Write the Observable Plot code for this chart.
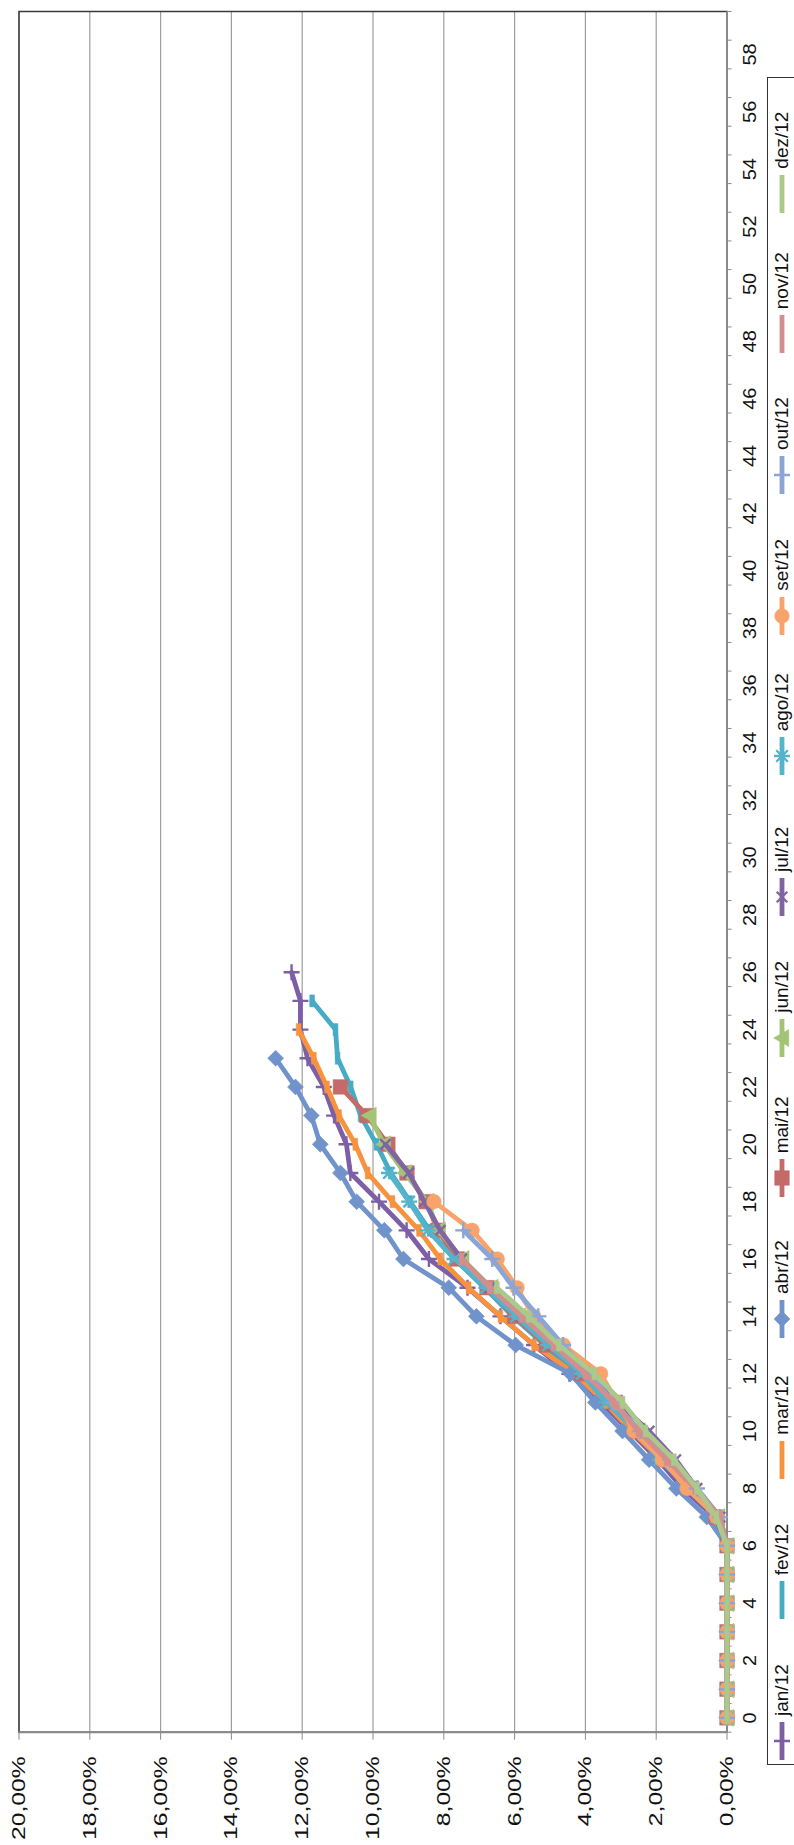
<!DOCTYPE html>
<html><head><meta charset="utf-8">
<script src="https://cdn.jsdelivr.net/npm/d3@7"></script>
<script src="https://cdn.jsdelivr.net/npm/@observablehq/plot@0.6"></script>
<style>
html,body{margin:0;padding:0;background:#fff;overflow:hidden;width:794px;height:1845px;}
#rot{position:absolute;left:0;top:0;width:1845px;height:810px;transform-origin:0 0;transform:translate(0px,1845px) rotate(-90deg);font-family:"Liberation Sans",Arial,sans-serif;background:#fff;}
#chart{position:absolute;left:0;top:0;}
#legend{position:absolute;left:80px;top:767px;width:1688px;height:42px;border:1.5px solid #333;box-sizing:border-box;}
.item{position:absolute;top:0;height:28px;display:flex;align-items:center;}
.item span{font-size:19px;line-height:28px;color:#111;margin-left:5px;white-space:nowrap;}
</style></head><body>
<div id="rot"><div id="chart"></div><div id="legend"></div></div>
<script>
// ---- data (percent values, index = week) ----
const categories = ["jan/12","fev/12","mar/12","abr/12","mai/12","jun/12","jul/12","ago/12","set/12","out/12","nov/12","dez/12"];
const jan = [0,0,0,0,0,0,0,0.35,1.25,1.95,2.75,3.55,4.45,5.45,6.4,7.33,8.42,9.05,9.83,10.64,10.75,11.1,11.39,11.85,12.05,12.05,12.3];
const fev = [0,0,0,0,0,0,0,0.25,0.95,1.75,2.5,3.4,4.3,5.15,6.05,6.85,7.7,8.4,8.95,9.5,9.9,10.35,10.63,11.0,11.06,11.72];
const mar = [0,0,0,0,0,0,0,0.3,1.05,1.85,2.7,3.45,4.3,5.45,6.4,7.3,8.1,8.7,9.45,10.15,10.5,10.96,11.3,11.67,12.1];
const abr = [0,0,0,0,0,0,0,0.57,1.43,2.2,2.95,3.72,4.42,5.97,7.08,7.86,9.14,9.68,10.46,10.92,11.49,11.74,12.19,12.75];
const mai = [0,0,0,0,0,0,0,0.3,1.0,1.75,2.55,3.15,4.1,5.1,6.0,6.78,7.62,8.17,8.5,9.04,9.58,10.17,10.92];
const jun = [0,0,0,0,0,0,0,0.25,1.0,1.85,2.5,3.3,4.05,5.0,5.88,6.66,7.48,8.15,8.47,9.1,9.69,10.1];
const jul = [0,0,0,0,0,0,0,0.2,0.85,1.45,2.2,3.1,3.95,4.9,5.8,6.7,7.5,8.1,8.55,8.99,9.65];
const ago = [0,0,0,0,0,0,0,0.3,1.05,1.9,2.55,3.4,4.1,5.05,5.95,6.8,7.7,8.45,8.98,9.55];
const set = [0,0,0,0,0,0,0,0.29,1.13,1.83,2.63,3.1,3.57,4.62,5.46,5.93,6.49,7.2,8.28];
const out = [0,0,0,0,0,0,0,0.2,0.85,1.6,2.45,3.2,3.9,4.63,5.33,6.03,6.63,7.45];
const nov = [0,0,0,0,0,0,0,0.2,0.9,1.7,2.5,3.2,4.0,4.9,5.8,6.7,7.5];
const dez = [0,0,0,0,0,0,0,0.3,0.85,1.5,2.3,2.95,3.75,4.75,5.6,6.5];
const seriesValues = [jan,fev,mar,abr,mai,jun,jul,ago,set,out,nov,dez];
const weekLabels = [0,2,4,6,8,10,12,14,16,18,20,22,24,26,28,30,32,34,36,38,40,42,44,46,48,50,52,54,56,58];
const weekCount = 60;
const pctTicks = [0,0.02,0.04,0.06,0.08,0.10,0.12,0.14,0.16,0.18,0.20];

// ---- styles ----
const colors = ["#7D5FA6","#47ABC6","#F7933F","#7093CB","#C46B69","#A3C475","#8165A3","#55B3CC","#F7A36B","#8BA6D6","#D48E8D","#AAC98A"];
const markerTypes = ["plus","dash","dash","diamond","square","triangle","times","asterisk","circle","plus","dash","dash"];
const markerR = {plus:8,dash:6,diamond:8,square:7.3,triangle:8.5,times:7,asterisk:8,circle:7.3};
const strokeSym = new Set(["plus","times","asterisk"]);

const rr = size => Math.sqrt(size/Math.PI);
const symbols = {
  diamond:{draw(c,s){const r=rr(s);c.moveTo(0,-r);c.lineTo(r,0);c.lineTo(0,r);c.lineTo(-r,0);c.closePath();}},
  square:{draw(c,s){const r=rr(s);c.rect(-r,-r,2*r,2*r);}},
  triangle:{draw(c,s){const r=rr(s);c.moveTo(0,-r);c.lineTo(r,r*0.8);c.lineTo(-r,r*0.8);c.closePath();}},
  circle:{draw(c,s){const r=rr(s);c.moveTo(r,0);c.arc(0,0,r,0,2*Math.PI);}},
  dash:{draw(c,s){const r=rr(s);c.rect(-r,-2.4,2*r,4.8);}},
  plus:{draw(c,s){const r=rr(s);c.moveTo(-r,0);c.lineTo(r,0);c.moveTo(0,-r);c.lineTo(0,r);}},
  times:{draw(c,s){const r=rr(s)*0.75;c.moveTo(-r,-r);c.lineTo(r,r);c.moveTo(-r,r);c.lineTo(r,-r);}},
  asterisk:{draw(c,s){const r=rr(s),a=r*0.72;c.moveTo(-a,-a);c.lineTo(a,a);c.moveTo(-a,a);c.lineTo(a,-a);c.moveTo(0,-r);c.lineTo(0,r);}}
};

const rows = seriesValues.map((vals,k)=>vals.map((v,i)=>({series:categories[k],week:i,value:v/100})));
const boundaries = d3.range(weekCount+1).map(i=>i-0.5);
const fmtPct = d => (d*100).toFixed(2).replace(".", ",") + "%";

const marks = [
  Plot.gridY(pctTicks.slice(1), {stroke:"#9e9e9e", strokeOpacity:1, strokeWidth:1.2}),
  Plot.frame({stroke:"#3a3a3a", strokeWidth:1.5}),
  Plot.ruleY([0], {stroke:"#8a8a8a", strokeWidth:2}),
  Plot.ruleX([-0.5], {stroke:"#8a8a8a", strokeWidth:2}),
  Plot.axisY(pctTicks, {tickSize:7, tickPadding:17, tickFormat:fmtPct, fontSize:19, stroke:"#8a8a8a", fill:"#111", label:null}),
  Plot.axisX(boundaries, {tickSize:5, tickFormat:()=>"", stroke:"#8a8a8a", label:null}),
  Plot.axisX(weekLabels, {tickSize:0, tickPadding:15, fontSize:19, fill:"#111", label:null})
];
rows.forEach((data,k)=>{
  const t = markerTypes[k], c = colors[k];
  marks.push(Plot.line(data, {x:"week", y:"value", stroke:c, strokeWidth:4.8, strokeLinejoin:"round", strokeLinecap:"round"}));
  marks.push(Plot.dot(data, {x:"week", y:"value", symbol:symbols[t], r:markerR[t],
    fill: strokeSym.has(t) ? "none" : c, stroke:c, strokeWidth: strokeSym.has(t) ? 2.4 : 0.5}));
});

const chart = Plot.plot({
  width:1845, height:766,
  marginLeft:112.3, marginRight:12, marginTop:18.5, marginBottom:39.5,
  x:{domain:[-0.5, weekCount-0.5], label:null},
  y:{domain:[0,0.2], label:null},
  style:{fontFamily:'"Liberation Sans", Arial, sans-serif', fontSize:"19px", color:"#111", background:"white", overflow:"visible"},
  marks
});
document.getElementById("chart").appendChild(chart);

// stretch axis labels like the original
function stretch(labelPart, factor){
  chart.querySelectorAll("g[aria-label='" + labelPart + "'] text").forEach(t=>{
    const len = t.getComputedTextLength();
    if (len > 0) { t.setAttribute("textLength", (len*factor).toFixed(1)); t.setAttribute("lengthAdjust","spacingAndGlyphs"); }
  });
}
stretch("y-axis tick label", 1.3);
stretch("x-axis tick label", 1.05);

// ---- legend ----
const legend = d3.select("#legend");
const period = 1688/12;
categories.forEach((name,k)=>{
  const item = legend.append("div").attr("class","item").style("left", (3 + k*period) + "px");
  const svg = item.append("svg").attr("width",40).attr("height",28);
  svg.append("line").attr("x1",1).attr("x2",39).attr("y1",14).attr("y2",14).attr("stroke",colors[k]).attr("stroke-width",4.8);
  const t = markerTypes[k];
  if (t !== "dash") {
    const r = markerR[t];
    svg.append("path").attr("transform","translate(20,14)")
      .attr("d", d3.symbol(symbols[t], Math.PI*r*r)())
      .attr("fill", strokeSym.has(t) ? "none" : colors[k])
      .attr("stroke", colors[k]).attr("stroke-width", strokeSym.has(t) ? 2.4 : 0.5);
  }
  item.append("span").text(name);
});
</script>
</body></html>
